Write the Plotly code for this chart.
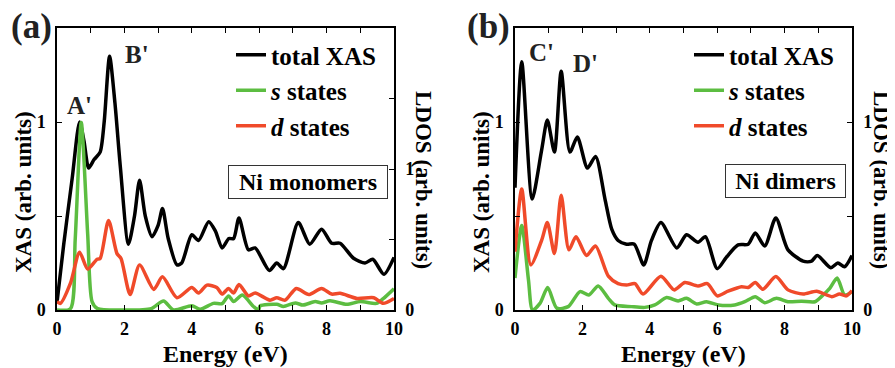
import plotly.graph_objects as go

# ---------------- data ----------------
# Panel (a) Ni monomers
a_xas_E = [0, 0.2, 0.45, 0.67, 0.8, 0.94, 1.1, 1.28, 1.4, 1.56, 1.72, 1.88, 2.12, 2.3, 2.45, 2.62, 2.82, 3.0, 3.13, 3.3,
           3.56, 3.7, 4.0, 4.2, 4.5, 4.7, 4.9, 5.1, 5.24, 5.4, 5.68, 5.88, 6.3, 6.52, 6.72, 7.16, 7.5, 7.85, 8.15,
           8.4, 8.8, 9.14, 9.37, 9.7, 10]
a_xas = [0.04, 0.35, 0.7, 1.0, 0.9, 0.755, 0.8, 0.84, 1.0, 1.35, 1.1, 0.76, 0.35, 0.5, 0.69, 0.5, 0.39, 0.45, 0.54, 0.38,
         0.24, 0.25, 0.40, 0.37, 0.47, 0.42, 0.33, 0.38, 0.38, 0.49, 0.32, 0.33, 0.21, 0.25, 0.22, 0.465, 0.35, 0.43,
         0.355, 0.355, 0.275, 0.25, 0.27, 0.19, 0.28]

a_s_E = [0, 0.4, 0.54, 0.72, 0.91, 1.04, 1.2, 2.0, 2.8, 3.16, 3.46, 4.0, 4.25, 4.64, 4.9, 5.09, 5.24, 5.5, 5.83,
         5.98, 6.03, 6.52, 6.72, 7.07, 7.3, 7.66, 7.85, 8.1, 8.6, 9.0, 9.48, 9.68, 10]
a_s = [0.0, 0.01, 0.5, 1.33, 0.54, 0.06, 0.01, 0.0, 0.01, 0.064, 0.0, 0.03, 0.005, 0.047, 0.045, 0.1, 0.06, 0.106, 0.025,
       0.0, 0.03, 0.04, 0.025, 0.05, 0.035, 0.06, 0.05, 0.065, 0.04, 0.06, 0.047, 0.08, 0.15]

a_d_E = [0, 0.1, 0.4, 0.67, 0.91, 1.19, 1.28, 1.53, 1.78, 1.9, 2.17, 2.45, 2.87, 3.13, 3.56, 4.0, 4.2, 4.45, 4.74,
         4.9, 5.09, 5.24, 5.4, 5.68, 5.88, 6.32, 6.52, 6.77, 7.1, 7.47, 7.85, 8.15, 8.4, 8.9, 9.4, 9.68, 10]
a_d = [0.06, 0.047, 0.19, 0.41, 0.29, 0.36, 0.365, 0.635, 0.40, 0.365, 0.11, 0.32, 0.146, 0.235, 0.087, 0.16, 0.12,
       0.176, 0.16, 0.113, 0.153, 0.12, 0.18, 0.10, 0.12, 0.07, 0.087, 0.07, 0.153, 0.11, 0.153, 0.113, 0.118, 0.082,
       0.087, 0.047, 0.082]

# Panel (b) Ni dimers
b_xas_E = [0, 0.2, 0.51, 0.79, 0.96, 1.17, 1.37, 1.63, 1.85, 2.15, 2.39, 2.67, 2.87, 3.06, 3.31, 3.54, 3.82, 4.05,
           4.33, 4.8, 5.09, 5.43, 5.65, 6.0, 6.27, 6.62, 6.92, 7.13, 7.41, 7.74, 8.1, 8.55, 8.8, 8.97, 9.37, 9.58,
           9.78, 10]
b_xas = [0.65, 1.32, 0.59, 0.85, 1.01, 0.84, 1.27, 0.84, 0.92, 0.755, 0.817, 0.59, 0.43, 0.37, 0.35, 0.35, 0.24, 0.37,
         0.465, 0.33, 0.40, 0.36, 0.39, 0.22, 0.28, 0.346, 0.35, 0.41, 0.34, 0.49, 0.32, 0.26, 0.26, 0.29, 0.225, 0.25,
         0.23, 0.29]

b_s_E = [0, 0.2, 0.4, 0.52, 0.74, 0.97, 1.24, 1.58, 1.93, 2.19, 2.47, 2.77, 2.96, 3.46, 3.85, 4.15, 4.5, 4.84, 5.09,
         5.39, 5.68, 6.03, 6.52, 6.82, 7.13, 7.41, 7.76, 8.1, 8.5, 8.9, 9.09, 9.34, 9.56, 9.78, 10]
b_s = [0.17, 0.45, 0.16, 0.0, 0.035, 0.12, 0.01, 0.018, 0.098, 0.08, 0.128, 0.062, 0.027, 0.018, 0.014, 0.027, 0.066,
       0.048, 0.062, 0.032, 0.044, 0.027, 0.027, 0.044, 0.071, 0.039, 0.062, 0.044, 0.047, 0.044, 0.071, 0.115, 0.17,
       0.08, 0.098]

b_d_E = [0, 0.2, 0.47, 0.79, 0.96, 1.17, 1.37, 1.6, 1.81, 2.12, 2.39, 2.77, 3.06, 3.31, 3.56, 3.8, 4.33, 4.72, 5.04,
         5.43, 5.71, 6.0, 6.32, 6.72, 6.92, 7.13, 7.36, 7.74, 8.1, 8.55, 8.95, 9.4, 9.63, 9.83, 10]
b_d = [0.31, 0.643, 0.24, 0.37, 0.465, 0.30, 0.61, 0.32, 0.39, 0.29, 0.34, 0.18, 0.14, 0.133, 0.14, 0.085, 0.18, 0.107,
       0.146, 0.128, 0.14, 0.075, 0.10, 0.124, 0.12, 0.146, 0.11, 0.178, 0.107, 0.085, 0.10, 0.071, 0.085, 0.075, 0.103]

x_ticks = [0, 2, 4, 6, 8, 10]
y_tickvals = [0, 0.5, 1, 1.5]
y_ticktext = ["0", "", "1", ""]

series_names = ["total XAS", "<i>s</i> states", "<i>d</i> states"]
series_colors = ["#000000", "#5cbd41", "#f04a2a"]

# ---------------- figure ----------------
# The page body has an 8px margin, so the figure is drawn 8px smaller and
# screen positions are converted to figure-paper fractions.
OFF = 8
FW, FH = 895 - OFF, 368 - OFF

def px(x):
    return (x - OFF) / FW

def py(y):
    return 1 - (y - OFF) / FH

SERIF = "Liberation Serif"
fig = go.Figure()

LW = 3.5
def line(E, v, name, color, xa, ya, legend):
    fig.add_trace(go.Scatter(x=E, y=v, mode="lines", name=name, xaxis=xa, yaxis=ya,
                             line=dict(color=color, width=LW, shape="spline", smoothing=0.7),
                             legend=legend))

line(a_xas_E, a_xas, series_names[0], series_colors[0], "x", "y", "legend")
line(a_s_E, a_s, series_names[1], series_colors[1], "x", "y2", "legend")
line(a_d_E, a_d, series_names[2], series_colors[2], "x", "y2", "legend")
line(b_xas_E, b_xas, series_names[0], series_colors[0], "x2", "y3", "legend2")
line(b_s_E, b_s, series_names[1], series_colors[1], "x2", "y4", "legend2")
line(b_d_E, b_d, series_names[2], series_colors[2], "x2", "y4", "legend2")

tickfont = dict(family=SERIF, size=18, color="black", weight="bold")

ydom = [py(310), py(28)]
dom_a = [px(57), px(394)]
dom_b = [px(515), px(852)]

def xax(domain, anchor):
    return dict(domain=domain, anchor=anchor, range=[0, 10], tickvals=x_ticks, ticks="inside", ticklen=5,
                minor=dict(dtick=1, ticks="inside", ticklen=5, tickcolor="black"),
                tickcolor="black", tickwidth=1.2, showline=True, linecolor="black", linewidth=1.5, mirror="ticks",
                showgrid=False, zeroline=False, tickfont=tickfont, automargin=False, ticklabelstandoff=2)

def yax(anchor, rng, side, overlay=None):
    d = dict(domain=ydom, anchor=anchor, range=rng, tickvals=y_tickvals, ticktext=y_ticktext,
             ticks="inside", ticklen=5, tickcolor="black", tickwidth=1.2, showline=True, linecolor="black",
             linewidth=1.5, showgrid=False, zeroline=False, tickfont=tickfont, side=side, automargin=False,
             ticklabelstandoff=6)
    if overlay:
        d["overlaying"] = overlay
    return d

legfont = dict(family=SERIF, size=25, color="black", weight="bold")
fig.update_layout(
    width=FW, height=FH, margin=dict(l=0, r=0, t=0, b=0, autoexpand=False),
    paper_bgcolor="white", plot_bgcolor="white",
    xaxis=xax(dom_a, "y"),
    yaxis=yax("x", [0, 1.5], "left"),
    yaxis2=yax("x", [0, 2], "right", overlay="y"),
    xaxis2=xax(dom_b, "y3"),
    yaxis3=yax("x2", [0, 1.5], "left"),
    yaxis4=yax("x2", [0, 1.5], "right", overlay="y3"),
    legend=dict(x=px(231), y=py(32), xanchor="left", yanchor="top", bgcolor="rgba(0,0,0,0)",
                font=legfont, itemwidth=30, tracegroupgap=0),
    legend2=dict(x=px(689), y=py(32), xanchor="left", yanchor="top", bgcolor="rgba(0,0,0,0)",
                 font=legfont, itemwidth=30, tracegroupgap=0),
)

titlefont = dict(family=SERIF, size=23, color="black", weight="bold")
xtitlefont = dict(family=SERIF, size=24, color="black", weight="bold")
ann_font = dict(family=SERIF, size=25, color="#222222", weight="bold")
panel_font = dict(family=SERIF, size=35, color="#222222", weight="bold")

def paper_text(text, x, y, font, **kw):
    return dict(text=text, x=px(x), y=py(y), xref="paper", yref="paper", xanchor="center", yanchor="middle",
                showarrow=False, font=font, **kw)

annotations = [
    paper_text("(a)", 31, 26, panel_font),
    paper_text("(b)", 489, 26, panel_font),
    paper_text("XAS (arb. units)", 23, 192, titlefont, textangle=-90),
    paper_text("LDOS (arb. units)", 424, 180, titlefont, textangle=90),
    paper_text("XAS (arb. units)", 481, 192, titlefont, textangle=-90),
    paper_text("LDOS (arb. units)", 882, 180, titlefont, textangle=90),
    paper_text("Energy (eV)", 225, 354, xtitlefont),
    paper_text("Energy (eV)", 683, 354, xtitlefont),
    dict(text="A'", x=0.68, y=1.09, xref="x", yref="y", showarrow=False, font=ann_font),
    dict(text="B'", x=2.37, y=1.36, xref="x", yref="y", showarrow=False, font=ann_font),
    dict(text="C'", x=0.8, y=1.37, xref="x2", yref="y3", showarrow=False, font=ann_font),
    dict(text="D'", x=2.1, y=1.31, xref="x2", yref="y3", showarrow=False, font=ann_font),
    paper_text("Ni monomers", (229 + 386) / 2, 182, dict(family=SERIF, size=24, color="black", weight="bold"),
               bordercolor="#333333", borderwidth=1, borderpad=3, bgcolor="white", width=152),
    paper_text("Ni dimers", (726 + 844) / 2, 181, dict(family=SERIF, size=24, color="black", weight="bold"),
               bordercolor="#333333", borderwidth=1, borderpad=3, bgcolor="white", width=113),
]
fig.update_layout(annotations=annotations)

fig.write_html("out.html")
